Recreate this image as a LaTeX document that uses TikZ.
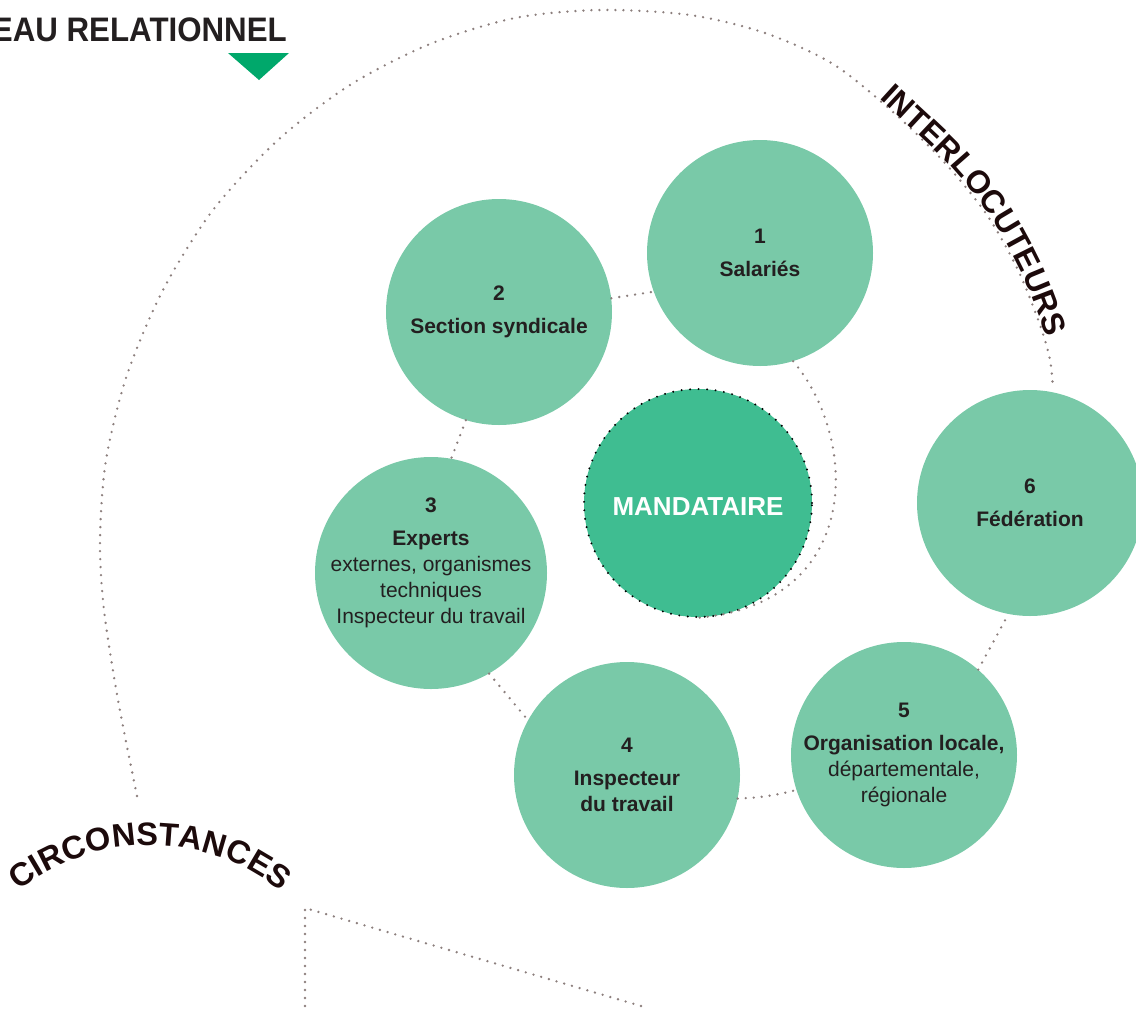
\documentclass[tikz,border=0pt]{standalone}
\usepackage{fontspec}
\setmainfont{Liberation Sans}
\usetikzlibrary{decorations.text}

\definecolor{ringgreen}{HTML}{79C9A8}
\definecolor{coregreen}{HTML}{3FBD91}
\definecolor{markgreen}{HTML}{00A86B}
\definecolor{dotgray}{HTML}{8C7F7D}
\definecolor{ink}{HTML}{231F20}
\definecolor{headink}{HTML}{1C0A0B}

\begin{document}
\begin{tikzpicture}[x=1pt, y=-1pt,
  partner/.style={circle, fill=ringgreen, minimum size=226pt, inner sep=0pt},
  core/.style={circle, fill=coregreen, minimum size=228pt, inner sep=0pt,
    draw=black, line width=2.2pt, line cap=round, dash pattern=on 0pt off 8.5pt},
  caption/.style={align=center, text=ink, inner sep=0pt,
    font=\fontsize{21}{26}\selectfont},
  link/.style={draw=dotgray, line width=2.6pt, line cap=round,
    dash pattern=on 0pt off 8pt},
]
\useasboundingbox (0,0) rectangle (1136,1010);

% outer ring of relations
\draw[link] plot[smooth] coordinates {(137,796) (118,700) (104,610) (100,540)
  (106,460) (127,375) (163,290) (213,210) (278,140) (350,85) (430,44) (515,18)
  (600,10) (690,15) (765,33) (833,64) (893,112) (945,163) (987,215) (1018,270)
  (1040,325) (1050,360) (1053,389)};

% partner circles and the central one
\node[partner] (c1) at (760,253) {};
\node[partner] (c2) at (499,312) {};
\node[partner, minimum size=232pt] (c3) at (431,573) {};
\node[partner] (c4) at (627,775) {};
\node[partner] (c5) at (904,755) {};
\node[partner] (c6) at (1030,503) {};
\node[core] (m) at (698,503) {};
\node[text=white, inner sep=0pt, yshift=-4pt,
  font=\bfseries\fontsize{26}{30}\selectfont] (tm) at (m) {MANDATAIRE};

% circle captions
\node[caption] (t1) at (c1) {\textbf{1}\\[7pt]\textbf{Salariés}};
\node[caption] (t2) at (c2) {\textbf{2}\\[7pt]\textbf{Section syndicale}};
\node[caption, yshift=10pt] (t3) at (c3) {\textbf{3}\\[7pt]\textbf{Experts}\\
  externes, organismes\\techniques\\Inspecteur du travail};
\node[caption] (t4) at (c4) {\textbf{4}\\[7pt]\textbf{Inspecteur}\\\textbf{du travail}};
\node[caption] (t5) at (c5) {\textbf{5}\\[7pt]\textbf{Organisation locale,}\\
  départementale,\\régionale};
\node[caption] (t6) at (c6) {\textbf{6}\\[7pt]\textbf{Fédération}};

% dotted links between circles
\draw[link] (c2.7) -- (c1.200);
\draw[link] (c2.253) -- (c3.80);
\draw[link] (c3.-60) -- (c4.151);
\draw[link] (c4.-12) to[bend right=6] (c5.198);
\draw[link] (c5.49) -- (c6.259);
\draw[link] (c1.-73) .. controls (860,440) and (863,606) .. (m.-92);

% lower dotted frame
\coordinate (apex) at (305,908);
\coordinate (down) at (305,1014);
\coordinate (slope) at (648,1008);
\draw[link] (down) -- (apex) -- (slope);

% heading with its marker
\node[anchor=base east, inner sep=0pt, text=ink,
  font=\bfseries\fontsize{34}{34}\selectfont] (title) at (287,41)
  {\scalebox{0.92}[1]{EAU RELATIONNEL}};
\fill[markgreen] (228,53) -- (289,53) -- (259,80) -- cycle;

% curved headings
\path[decorate, decoration={text along path, text color=headink, raise=2pt,
  text align=left,
  text={|\bfseries\fontsize{32}{32}\selectfont|INTERLOCUTEURS}}]
  plot[smooth] coordinates {(878,100) (945,163) (987,215) (1018,270) (1040,325) (1050,360) (1053,389)};
\path[decorate, decoration={text along path, text color=headink,
  text align=center,
  text={|\bfseries\fontsize{32.5}{32.5}\selectfont|CIRCONSTANCES}}]
  plot[domain=140:40, samples=50] ({150+210*cos(\x)}, {1055-210*sin(\x)});
\end{tikzpicture}
\end{document}
